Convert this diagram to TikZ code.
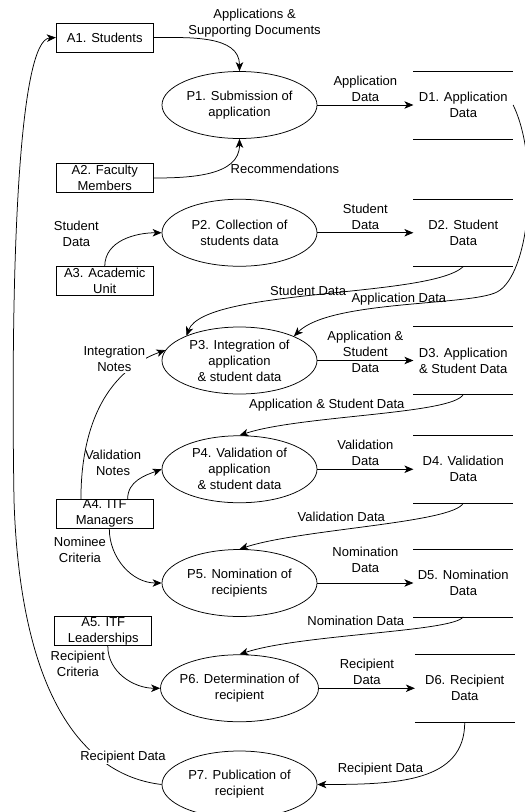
\documentclass[tikz,border=0pt]{standalone}
\usepackage{fontspec}
\setmainfont{Liberation Sans}
\usepackage{tikz}
\usetikzlibrary{shapes.geometric, positioning, arrows.meta}

\begin{document}
\begin{tikzpicture}[
    x = 1pt, y = -1pt,
    > = {Stealth[length = 9pt, width = 7.5pt, inset = 2.5pt]},
    line width = 0.75pt,
    font = \fontsize{13}{16}\selectfont,
    process/.style = {ellipse, draw, minimum width = 155pt, minimum height = 67pt,
                      inner xsep = -4pt, inner ysep = 0pt, align = center},
    store/.style   = {rectangle, minimum width = 99pt, minimum height = 67pt,
                      inner sep = 0pt, align = center},
    agent/.style   = {rectangle, draw, minimum width = 97pt, minimum height = 29pt,
                      inner xsep = 0pt, inner ysep = -2pt, align = center},
    lbl/.style     = {align = center, inner sep = 1pt}
]
\useasboundingbox (0,0) rectangle (525,812);

% Processes
\node[process]                     (P1) at (239.5,105) {P1. Submission of\\application};
\node[process, below = 60pt of P1]   (P2) {P2. Collection of\\students data};
\node[process, below = 60pt of P2]   (P3) {P3. Integration of\\application\\\& student data};
\node[process, below = 41pt of P3]   (P4) {P4. Validation of\\application\\\& student data};
\node[process, below = 46pt of P4]   (P5) {P5. Nomination of\\recipients};
\node[process, below = 37.5pt of P5] (P6) {P6. Determination of\\recipient};
\node[process, below = 28.5pt of P6] (P7) {P7. Publication of\\recipient};

% Data stores
\node[store, right = 96pt of P1] (D1) {D1. Application\\Data};
\node[store, right = 96pt of P2] (D2) {D2. Student\\Data};
\node[store, right = 96pt of P3] (D3) {D3. Application\\\& Student Data};
\node[store, right = 96pt of P4] (D4) {D4. Validation\\Data};
\node[store, right = 96pt of P5] (D5) {D5. Nomination\\Data};
\node[store, right = 96pt of P6] (D6) {D6. Recipient\\Data};

\foreach \i in {1,...,6} {
    \draw (D\i.north west) -- (D\i.north east) (D\i.south west) -- (D\i.south east);
}

% External entities
\node[agent, left = 8pt of P1, yshift = 67.5pt]  (A1) {A1. Students};
\node[agent, left = 8pt of P1, yshift = -73pt]   (A2) {A2. Faculty\\Members};
\node[agent, left = 8pt of P2, yshift = -48.5pt] (A3) {A3. Academic\\Unit};
\node[agent, left = 8pt of P4, yshift = -44.5pt] (A4) {A4. ITF\\Managers};
\node[agent, left = 8pt of P6, yshift = 57pt]    (A5) {A5. ITF\\Leaderships};

% Entities to processes
\draw[->] (A1) to[out=0, in=90]
    node[lbl, pos=0.3, above right, inner sep=0pt] {Applications \&\\Supporting Documents} (P1.north);
\draw[->] (A2) to[out=0, in=-90]
    node[lbl, pos=0.72, anchor=north west] {Recommendations} (P1.south);
\draw[->] (A3) to[out=90, in=180]
    node[lbl, pos=0.3, above left = 0pt and 12pt] {Student\\Data} (P2.west);
\draw[->] (A4.148) to[out=90, in=200]
    node[lbl, pos=1, anchor=east, xshift=-19pt, yshift=-9pt, fill=white] {Integration\\Notes} (P3.172);
\draw[->] (A4.33) to[out=90, in=200]
    node[lbl, pos=0.6, above left] {Validation\\Notes} (P4.west);
\draw[->] (A4.-73) to[out=-90, in=180]
    node[lbl, pos=0.25, left=6pt] {Nominee\\Criteria} (P5.west);
\draw[->] (A5.-73) to[out=-90, in=180]
    node[lbl, pos=0.25, left=6pt] {Recipient\\Criteria} (P6.west);

% Processes to stores
\draw[->] (P1) to node[lbl, above=2pt] {Application\\Data} (D1);
\draw[->] (P2) to node[lbl, above=2pt] {Student\\Data} (D2);
\draw[->] (P3) to node[lbl, yshift=9pt] {Application \&\\Student\\Data} (D3);
\draw[->] (P4) to node[lbl, above=2pt] {Validation\\Data} (D4);
\draw[->] (P5) to node[lbl, above=9pt] {Nomination\\Data} (D5);
\draw[->] (P6) to node[lbl, above=2pt] {Recipient\\Data} (D6);

% Stores back to processes
\draw[->] (D2.south) .. controls (430,298) and (205,288) ..
    node[lbl, pos=0.53, above, inner sep=0pt] {Student Data} (P3.155);
\draw[->] (D1.east) .. controls (540,160) and (530,275) .. (497,292)
    .. controls (470,306) and (330,300) ..
    node[lbl, pos=0.5, above, inner sep=0pt] {Application Data} (P3.24);
\draw[->] (D3.south) .. controls +(-10,20) and +(60,-20) ..
    node[lbl, pos=0.65, above=7pt] {Application \& Student Data} (P4.north);
\draw[->] (D4.south) .. controls +(-10,20) and +(60,-20) ..
    node[lbl, pos=0.6, above=7pt] {Validation Data} (P5.north);
\draw[->] (D5.south) .. controls +(-10,15) and +(60,-20) ..
    node[lbl, pos=0.55, above=8pt] {Nomination Data} (P6.north);
\draw[->] (D6.south) .. controls +(0,60) and +(80,0) ..
    node[lbl, pos=0.72, above=6pt] {Recipient Data} (P7.east);

% Publication back to students
\draw[->] (P7.west) .. controls (80,775) and (20,690) ..
    node[lbl, pos=0.25, fill=white, xshift=18pt, yshift=6pt] {Recipient Data} (14,500)
    .. controls (10,250) and (20,40) .. (A1.west);

\end{tikzpicture}
\end{document}
